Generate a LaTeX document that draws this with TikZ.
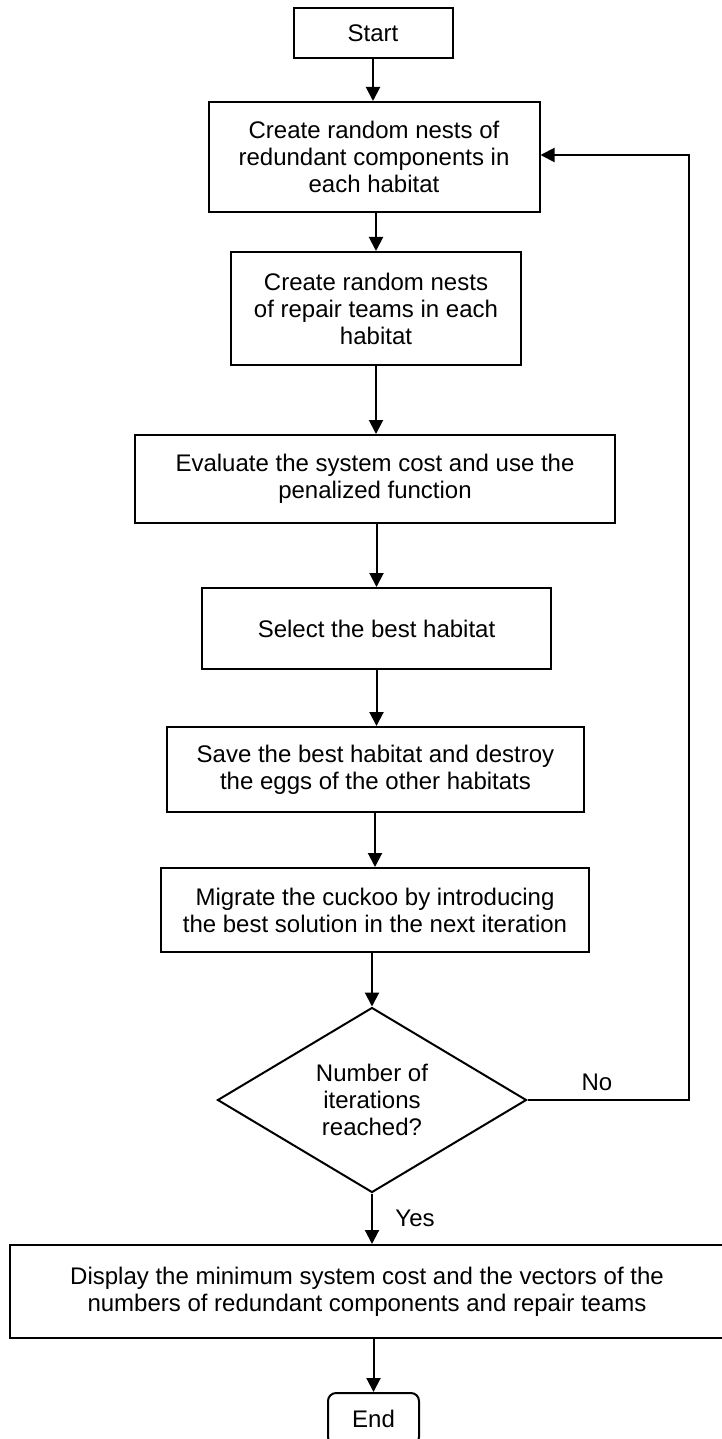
\documentclass[tikz,border=0pt]{standalone}
\usepackage{fontspec}
\setmainfont{Liberation Sans}
\usetikzlibrary{arrows.meta,shapes.geometric}
\begin{document}
\begin{tikzpicture}[x=1pt,y=-1pt,
  every node/.style={font=\fontsize{24}{27}\selectfont, align=center, inner sep=0pt},
  stepbox/.style={draw, line width=2pt, rectangle},
  endbox/.style={draw, line width=2pt, rectangle, rounded corners=8pt},
  conn/.style={line width=2pt, -{Triangle[width=14pt,length=14pt]}},
  lbl/.style={font=\fontsize{24}{27}\selectfont}]
\useasboundingbox (0,0) rectangle (721,1439);
\node[stepbox, minimum width=159pt, minimum height=50pt] (start) at (373,33) {Start};
\node[stepbox, minimum width=331pt, minimum height=110pt] (b1) at (374,157) {Create random nests of\\redundant components in\\each habitat};
\node[stepbox, minimum width=290pt, minimum height=113pt] (b2) at (376,308.5) {Create random nests\\of repair teams in each\\habitat};
\node[stepbox, minimum width=480pt, minimum height=88pt] (b3) at (375,479) {Evaluate the system cost and use the\\penalized function};
\node[stepbox, minimum width=349pt, minimum height=81pt] (b4) at (376.5,628.5) {Select the best habitat};
\node[stepbox, minimum width=417pt, minimum height=85pt] (b5) at (375.5,769.5) {Save the best habitat and destroy\\the eggs of the other habitats};
\node[stepbox, minimum width=428pt, minimum height=84pt] (b6) at (375,910) {Migrate the cuckoo by introducing\\the best solution in the next iteration};
\node[draw, line width=2pt, shape=diamond, minimum width=309pt, minimum height=185pt, inner sep=0pt] (dec) at (372,1100) {Number of\\iterations\\reached?};
\node[stepbox, minimum width=714pt, minimum height=93pt] (fin) at (367,1291.5) {Display the minimum system cost and the vectors of the\\numbers of redundant components and repair teams};
\node[endbox, minimum width=91pt, minimum height=52pt] (end) at (373.5,1419) {End};
\coordinate (lx) at (689,155);
\draw[conn] (start.south) -- (start.south |- b1.north);
\draw[conn] (b1.south -| b2.north) -- (b2.north);
\draw[conn] (b2.south) -- (b2.south |- b3.north);
\draw[conn] (b3.south -| b4.north) -- (b4.north);
\draw[conn] (b4.south) -- (b4.south |- b5.north);
\draw[conn] (b5.south -| b6.north) -- (b6.north);
\draw[conn] (b6.south -| dec.north) -- (dec.north);
\draw[conn] (dec.south) -- (dec.south |- fin.north);
\draw[conn] (fin.south -| end.north) -- (end.north);
\draw[conn] (dec.east) -| (lx) -- (b1.east |- lx);
\node[lbl] (no) at (597,1082) {No};
\node[lbl] (yes) at (415,1218) {Yes};
\end{tikzpicture}
\end{document}
